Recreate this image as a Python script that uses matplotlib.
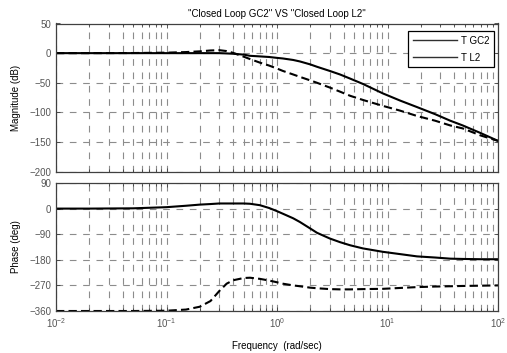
import numpy as np
import matplotlib
matplotlib.use("Agg")
import matplotlib.pyplot as plt
from matplotlib.lines import Line2D
from matplotlib.ticker import LogLocator, FixedLocator, NullFormatter

plt.rcParams['font.family'] = ['Liberation Sans', 'DejaVu Sans']

freq = [0.01, 0.02, 0.05, 0.1, 0.15, 0.2, 0.25, 0.3, 0.35, 0.4, 0.5, 0.57, 0.7, 0.85,
        1.0, 1.13, 1.4, 1.61, 2.0, 2.3, 3.0, 3.72, 4.6, 6.0, 9.1, 13, 18.5, 27, 37, 48, 70, 100]

mag_gc2 = [0, 0, 0, 0, 0, 0, 0, 0, -0.5, -1, -2.5, -4.5, -5.5, -6.5,
           -8, -9, -11.5, -14, -19, -23, -30, -36, -43, -52, -68, -80, -91, -103, -114, -122, -135, -148]
mag_l2 = [0, 0, 0.2, 0.8, 1.8, 3, 4.5, 5, 3.5, 0.5, -6, -10, -16, -21,
          -26, -30, -36, -40, -46, -50, -58, -65, -72, -79, -89, -97, -106, -114, -122, -127, -139, -148]

ph_gc2 = [0, 0, 1, 5, 10, 14, 16, 18, 18, 18, 18, 17, 12, 2,
          -9, -18, -34, -47, -70, -85, -105, -118, -129, -140, -152, -160, -168, -172, -176, -177, -178, -178]
ph_l2 = [-360, -360, -360, -359, -355, -345, -325, -290, -264, -252, -244, -243, -247, -253,
         -259, -264, -270, -273, -278, -280, -283, -284, -284, -283, -282, -279, -276, -274, -273, -272, -271, -270]

mag_ticks = [50, 0, -50, -100, -150, -200]
phase_ticks = [90, 0, -90, -180, -270, -360]
legend_labels = ["T GC2", "T L2"]
title = '"Closed Loop GC2" VS "Closed Loop L2"'

W, H = 507, 353
fig = plt.figure(figsize=(W / 100, H / 100), dpi=100)
ax1 = fig.add_axes([56 / W, (H - 171.7) / H, 442 / W, (171.7 - 23.5) / H])
ax2 = fig.add_axes([56 / W, (H - 311) / H, 442 / W, (311 - 183) / H])

grid_kw = dict(color='#8c8c8c', linestyle=(0, (6, 6)), linewidth=0.8)
for ax in (ax1, ax2):
    ax.set_xscale('log')
    ax.set_xlim(0.01, 100)
    ax.xaxis.set_major_locator(LogLocator(base=10, numticks=10))
    ax.xaxis.set_minor_locator(LogLocator(base=10, subs=np.arange(2, 10), numticks=20))
    ax.xaxis.set_minor_formatter(NullFormatter())
    ax.grid(True, which='major', axis='both', **grid_kw)
    ax.grid(True, which='minor', axis='x', **grid_kw)
    ax.tick_params(which='both', direction='in', top=True, right=True,
                   labelsize=7, labelcolor='#555555', color='#404040')
    ax.tick_params(which='major', length=3, width=0.6)
    ax.tick_params(which='minor', length=2, width=0.6)
    for s in ax.spines.values():
        s.set_color('#404040')
        s.set_linewidth(0.9)
    ax.set_axisbelow(True)

ax1.plot(freq, mag_gc2, color='black', lw=1.5, linestyle='-')
ax1.plot(freq, mag_l2, color='black', lw=1.5, linestyle=(0, (4, 2)))
ax1.set_ylim(-200, 50)
ax1.yaxis.set_major_locator(FixedLocator(mag_ticks))
ax1.tick_params(labelbottom=False)
ax1.set_ylabel('Magnitude (dB)', fontsize=7, labelpad=6)
ax1.set_title(title, fontsize=7, pad=5)

handles = [Line2D([], [], color='#303030', lw=1.0), Line2D([], [], color='#303030', lw=1.0)]
leg = ax1.legend(handles, legend_labels, loc='upper right', bbox_to_anchor=(0.991, 0.95),
                 fontsize=7, frameon=True, fancybox=False, framealpha=1, edgecolor='black',
                 handlelength=4.5, borderpad=0.5, labelspacing=0.7, handletextpad=0.4,
                 borderaxespad=0)
leg.get_frame().set_linewidth(0.9)

ax2.plot(freq, ph_gc2, color='black', lw=1.5, linestyle='-')
ax2.plot(freq, ph_l2, color='black', lw=1.5, linestyle=(0, (4, 2)))
ax2.set_ylim(-360, 90)
ax2.yaxis.set_major_locator(FixedLocator(phase_ticks))
ax2.set_ylabel('Phase (deg)', fontsize=7, labelpad=6)
ax2.set_xlabel('Frequency  (rad/sec)', fontsize=7, labelpad=8)

fig.savefig('out.png', dpi=100)
